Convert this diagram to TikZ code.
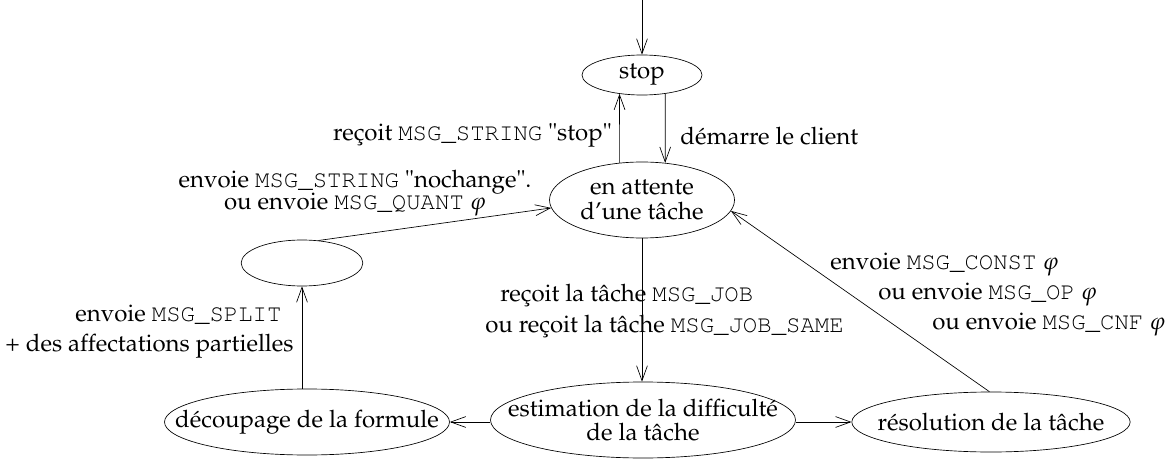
\documentclass[tikz,border=0pt]{standalone}
\usepackage[T1]{fontenc}
\usepackage{mathpazo}
\usepackage{courier}
\usetikzlibrary{shapes.geometric,arrows.meta}
\begin{document}
\begin{tikzpicture}[x=0.6pt,y=-0.6pt,
  font=\fontsize{14.4}{14.6}\selectfont,
  st/.style={ellipse,draw,inner sep=0pt},
  intext/.style={align=center,inner sep=0pt},
  arr/.style={-{Straight Barb[length=9pt,width=6.5pt]}},
  lab/.style={inner sep=0pt}]
\useasboundingbox (0,0) rectangle (1172,460);
% states
\node[st,minimum width=72pt,minimum height=24pt,label={[intext]center:stop}] (stop) at (642,75) {};
\node[st,minimum width=111pt,minimum height=45.6pt,label={[intext]center:en attente\\d'une t\^ache}] (att) at (642,200) {};
\node[st,minimum width=73pt,minimum height=27.6pt] (e) at (302,263) {};
\node[st,minimum width=171pt,minimum height=39.6pt,label={[intext]center:d\'ecoupage de la formule}] (dec) at (307,422) {};
\node[st,minimum width=183pt,minimum height=45.6pt,label={[intext]center:estimation de la difficult\'e\\de la t\^ache}] (est) at (643,420) {};
\node[st,minimum width=167pt,minimum height=36pt,label={[intext]center:r\'esolution de la t\^ache}] (res) at (991,422) {};
\coordinate (top) at (642,0);
% connectors
\draw[arr] (top) -- (stop);
\draw[arr] (att.121) -- (stop.220);
\draw[arr] (stop.-39) -- (att.58);
\draw[arr] (e.54) -- (att.185);
\draw[arr] (att.south) -- (att.south |- est.north);
\draw[arr] (est.west |- dec.east) -- (dec.east);
\draw[arr] (est.east |- res.west) -- (res.west);
\draw[arr] (e.south |- dec.north) -- (e.south);
\draw[arr] (res.93) -- (att.-7);
% labels
\node[lab,anchor=east] (l1) at (612,136) {re\c{c}oit \texttt{MSG\_STRING} \textquotedbl stop\textquotedbl};
\node[lab,anchor=west] (l2) at (680,136) {d\'emarre le client};
\node[lab,align=center] (l3) at (355,193) {envoie \texttt{MSG\_STRING} \textquotedbl nochange\textquotedbl.\\[-1.5pt]ou envoie \texttt{MSG\_QUANT} $\varphi$};
\node[lab,anchor=west] (l5) at (75,315) {envoie \texttt{MSG\_SPLIT}};
\node[lab,anchor=west] (l6) at (5,346) {+ des affectations partielles};
\node[lab,anchor=west] (l7) at (500,296) {re\c{c}oit la t\^ache \texttt{MSG\_JOB}};
\node[lab,anchor=west] (l8) at (485,327) {ou re\c{c}oit la t\^ache \texttt{MSG\_JOB\_SAME}};
\node[lab,anchor=west] (l9) at (830,265) {envoie \texttt{MSG\_CONST} $\varphi$};
\node[lab,anchor=west] (l10) at (878,295) {ou envoie \texttt{MSG\_OP} $\varphi$};
\node[lab,anchor=west] (l11) at (932,325) {ou envoie \texttt{MSG\_CNF} $\varphi$};
\end{tikzpicture}
\end{document}
